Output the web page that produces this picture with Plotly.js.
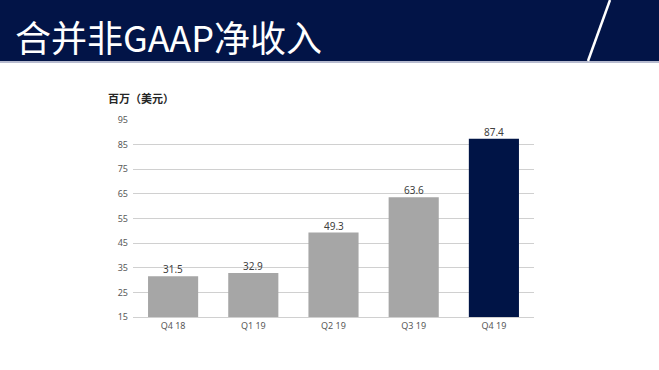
<!DOCTYPE html>
<html>
<head>
<meta charset="utf-8">
<script src="https://cdn.plot.ly/plotly-3.0.1.min.js"></script>
<style>html,body{margin:0;padding:0;background:#fff;}#chart{width:659px;height:370px;}</style>
</head>
<body>
<div id="chart"></div>
<script>
const categories = ["Q4 18", "Q1 19", "Q2 19", "Q3 19", "Q4 19"];
const values = [31.5, 32.9, 49.3, 63.6, 87.4];
const yTicks = [15, 25, 35, 45, 55, 65, 75, 85, 95];
const barColors = ["#a6a6a6", "#a6a6a6", "#a6a6a6", "#a6a6a6", "#001446"];
const titleText = "合并非GAAP净收入";
const yUnit = "百万（美元）";

const W = 659, H = 370;
const M = {l: 133, r: 125, t: 120, b: 53};
const pw = W - M.l - M.r, ph = H - M.t - M.b;
const px = x => (x - M.l) / pw;
const py = y => (H - M.b - y) / ph;

const font = "'Noto Sans', 'Noto Sans CJK SC', sans-serif";

const trace = {
  type: "bar",
  x: categories,
  y: values,
  marker: {color: barColors, line: {width: 0}},
  hoverinfo: "skip"
};

const valueLabels = categories.map((c, i) => ({
  text: values[i].toFixed(1), x: c, y: values[i], xref: "x", yref: "y",
  xanchor: "center", yanchor: "bottom", showarrow: false, yshift: -2,
  font: {family: font, size: 10, color: "#404040"}
}));

const layout = {
  width: W, height: H,
  margin: M,
  paper_bgcolor: "#ffffff",
  plot_bgcolor: "#ffffff",
  showlegend: false,
  bargap: 0.375,
  font: {family: font},
  xaxis: {
    type: "category",
    showgrid: false,
    showline: true, linecolor: "#d0d0d0", linewidth: 1,
    ticks: "",
    tickfont: {family: font, size: 9, color: "#595959"},
    fixedrange: true
  },
  yaxis: {
    range: [15, 95],
    tickvals: yTicks,
    ticktext: yTicks.map(String),
    showgrid: true, gridcolor: "#d0d0d0", gridwidth: 1,
    zeroline: false, showline: false,
    ticks: "",
    ticklabelstandoff: 4,
    tickfont: {family: font, size: 9, color: "#595959"},
    fixedrange: true
  },
  shapes: [
    {type: "rect", xref: "paper", yref: "paper",
     x0: px(0), x1: px(W), y0: py(61), y1: py(0),
     fillcolor: "#021447", line: {width: 0}, layer: "below"},
    {type: "line", xref: "paper", yref: "paper",
     x0: px(0), x1: px(W), y0: py(62), y1: py(62),
     line: {color: "#b7bbcf", width: 2}},
    {type: "line", xref: "paper", yref: "paper",
     x0: px(610), x1: px(588), y0: py(0), y1: py(61),
     line: {color: "#ffffff", width: 2.5}}
  ],
  annotations: [
    {text: titleText, xref: "paper", yref: "paper",
     x: px(13), y: py(36), xanchor: "left", yanchor: "middle",
     showarrow: false,
     font: {family: "'Noto Sans CJK SC', sans-serif", size: 36, color: "#ffffff"}},
    {text: "<b>" + yUnit + "</b>", xref: "paper", yref: "paper",
     x: px(106), y: py(98), xanchor: "left", yanchor: "middle",
     showarrow: false,
     font: {family: "'Noto Sans CJK SC', sans-serif", size: 11, color: "#262626"}}
  ].concat(valueLabels)
};

Plotly.newPlot("chart", [trace], layout, {displayModeBar: false, staticPlot: true});
</script>
</body>
</html>
